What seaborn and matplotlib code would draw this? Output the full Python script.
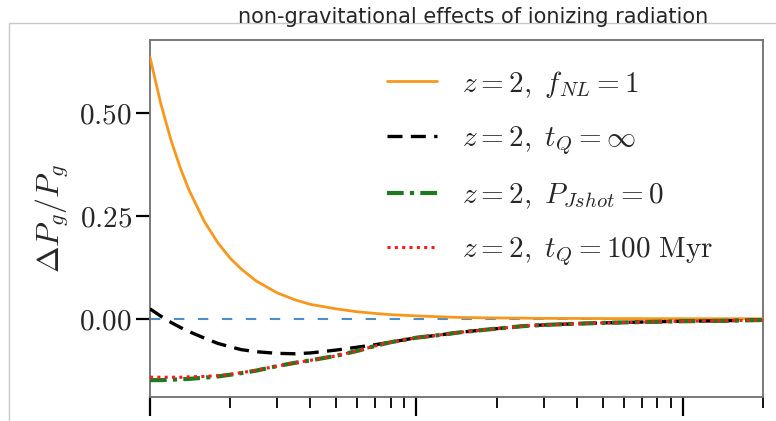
import numpy as np
import pandas as pd
import seaborn as sns
import matplotlib
matplotlib.use("Agg")
import matplotlib.pyplot as plt
from matplotlib.patches import Rectangle
from matplotlib.ticker import FuncFormatter, LogLocator, NullFormatter

# ---- data ----
k = [0.001, 0.0011, 0.0012, 0.0013, 0.0014, 0.0016, 0.0018, 0.002, 0.0022,
     0.0025, 0.003, 0.0035, 0.004, 0.005, 0.006, 0.007, 0.008, 0.01, 0.012,
     0.015, 0.02, 0.025, 0.03, 0.04, 0.05, 0.07, 0.1, 0.14, 0.2]

fnl = [0.635, 0.520, 0.433, 0.366, 0.313, 0.236, 0.184, 0.147, 0.121,
       0.092, 0.063, 0.046, 0.035, 0.024, 0.017, 0.013, 0.010, 0.007, 0.005,
       0.003, 0.002, 0.0015, 0.001, 0.0008, 0.0005, 0.0003, 0.0002, 0.0001, 0.0]

tq_inf = [0.024, 0.006, -0.009, -0.021, -0.031, -0.047, -0.060, -0.068, -0.075,
          -0.080, -0.084, -0.085, -0.083, -0.076, -0.069, -0.063, -0.057, -0.046, -0.040,
          -0.032, -0.024, -0.018, -0.015, -0.012, -0.010, -0.008, -0.006, -0.005, -0.003]

pjshot0 = [-0.149, -0.149, -0.148, -0.147, -0.146, -0.143, -0.140, -0.136, -0.132,
           -0.126, -0.115, -0.107, -0.101, -0.090, -0.078, -0.066, -0.057, -0.046, -0.040,
           -0.032, -0.024, -0.018, -0.015, -0.012, -0.010, -0.008, -0.006, -0.005, -0.003]

tq100 = [-0.142, -0.142, -0.142, -0.142, -0.141, -0.140, -0.138, -0.135, -0.131,
         -0.125, -0.115, -0.107, -0.101, -0.090, -0.078, -0.066, -0.057, -0.046, -0.040,
         -0.032, -0.024, -0.018, -0.015, -0.012, -0.010, -0.008, -0.006, -0.005, -0.003]

labels = [r"$z=2,\ f_{NL}=1$", r"$z=2,\ t_Q=\infty$",
          r"$z=2,\ P_{Jshot}=0$", r"$z=2,\ t_Q=100\ \mathrm{Myr}$"]
title = "non-gravitational effects of ionizing radiation"
yticks = [0.0, 0.25, 0.5]

# ---- style ----
sns.set_style("ticks")
plt.rcParams["mathtext.fontset"] = "cm"
plt.rcParams["font.family"] = ["DejaVu Sans"]

fig = plt.figure(figsize=(7.76, 4.21), dpi=100)
ax = fig.add_axes([150 / 776, 1 - 397 / 421, (763 - 150) / 776, (397 - 40) / 421])

# outer light frame
fig.patches.append(Rectangle((9 / 776, -0.05), 1.2, 1 - 23 / 421 + 0.05,
                             transform=fig.transFigure, fill=False,
                             edgecolor="#c8c8c8", lw=1.0, zorder=-10))

ax.axhline(0, color="#4a8fcc", lw=1.5, ls=(0, (5, 6.5)), zorder=1)

df = pd.DataFrame({"k": k, "fnl": fnl, "tq_inf": tq_inf,
                   "pj": pjshot0, "tq100": tq100})

sns.lineplot(data=df, x="k", y="fnl", ax=ax, color="#f7981d", lw=2.0,
             label=labels[0], zorder=3, sort=False, estimator=None)
sns.lineplot(data=df, x="k", y="tq_inf", ax=ax, color="black", lw=2.4,
             ls=(0, (4.5, 2.5)), label=labels[1], zorder=4, sort=False, estimator=None)
sns.lineplot(data=df, x="k", y="pj", ax=ax, color="#1e7a1e", lw=3.0,
             ls=(0, (4, 1.5, 1, 1.5)), label=labels[2], zorder=5, sort=False, estimator=None)
sns.lineplot(data=df, x="k", y="tq100", ax=ax, color="#ff1a1a", lw=2.2,
             ls=(0, (1, 1.4)), label=labels[3], zorder=6, sort=False, estimator=None)

ax.set_xscale("log")
ax.set_xlim(0.001, 0.2)
ax.set_ylim(-0.19, 0.677)
ax.set_yticks(yticks)
ax.yaxis.set_major_formatter(FuncFormatter(lambda v, p: f"${v:.2f}$"))
ax.xaxis.set_major_locator(LogLocator(base=10, numticks=10))
ax.xaxis.set_minor_locator(LogLocator(base=10, subs=np.arange(2, 10), numticks=20))
ax.xaxis.set_minor_formatter(NullFormatter())
ax.tick_params(axis="x", which="major", direction="out", length=14, width=1.6,
               color="black", labelbottom=False)
ax.tick_params(axis="x", which="minor", direction="out", length=8, width=1.3,
               color="black")
ax.tick_params(axis="y", which="major", direction="out", length=10, width=1.6,
               color="black", labelsize=21, pad=3)
ax.set_xlabel("")
ax.set_ylabel(r"$\Delta P_g/P_g$", fontsize=23, labelpad=6)

for s in ax.spines.values():
    s.set_color("#6e6e6e")
    s.set_linewidth(1.3)

leg = ax.legend(loc="upper left", bbox_to_anchor=(0.387, 0.92), frameon=False,
                fontsize=21, handlelength=1.7, handletextpad=0.85,
                labelspacing=0.83, borderpad=0, borderaxespad=0)

fig.text(473 / 776, 1 - 17 / 421, title, ha="center", va="center",
         fontsize=15, family=["DejaVu Sans"])

fig.savefig("out.png", dpi=100)
